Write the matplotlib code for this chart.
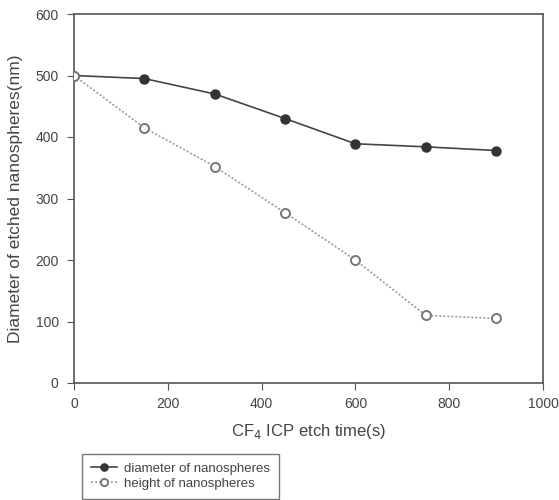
import matplotlib.pyplot as plt

plt.rcParams['font.family'] = ['Liberation Sans', 'DejaVu Sans']

# etch time (s)
etch_time = [0, 150, 300, 450, 600, 750, 900]
diameter = [500, 495, 470, 430, 389, 384, 378]
height = [500, 415, 352, 277, 200, 110, 105]

x_ticks = [0, 200, 400, 600, 800, 1000]
y_ticks = [0, 100, 200, 300, 400, 500, 600]

grey = "#555555"

fig = plt.figure(figsize=(5.59, 5.00), dpi=100)
ax = fig.add_axes([74 / 559, 1 - 383 / 500, (543 - 74) / 559, (383 - 14) / 500])

l1, = ax.plot(etch_time, diameter, color="#444444", lw=1.2, marker="o", ms=6.5,
              mfc="#333333", mec="#333333", label="diameter of nanospheres", zorder=3)
l2, = ax.plot(etch_time, height, color="#999999", lw=1.2, ls=(0, (1.2, 1.2)),
              marker="o", ms=6.5, mfc="white", mec="#777777", mew=1.4,
              label="height of nanospheres", zorder=3)

ax.set_xlim(0, 1000)
ax.set_ylim(0, 600)
ax.set_xticks(x_ticks)
ax.set_yticks(y_ticks)
for s in ax.spines.values():
    s.set_color(grey)
    s.set_linewidth(1.2)
ax.tick_params(direction="out", length=5, color=grey, labelcolor="#444444", labelsize=10)
ax.tick_params(axis="x", pad=5)
ax.tick_params(axis="y", pad=6)

ax.set_xlabel("CF$_4$ ICP etch time(s)", fontsize=12, color="#444444", labelpad=8)
ax.set_ylabel("Diameter of etched nanospheres(nm)", fontsize=12.5, color="#444444", labelpad=9)
ax.set_clip_on(False)

leg = fig.legend(handles=[l1, l2], loc="upper left",
                 bbox_to_anchor=(75 / 559, 1 - 447 / 500), frameon=True,
                 fancybox=False, fontsize=9.5, handlelength=2.0, labelspacing=0.2,
                 borderpad=0.7, handletextpad=0.5, markerscale=0.8)
leg.get_frame().set_edgecolor(grey)
leg.get_frame().set_linewidth(1.0)
for t in leg.get_texts():
    t.set_color("#444444")

fig.savefig("out.png", dpi=100)
